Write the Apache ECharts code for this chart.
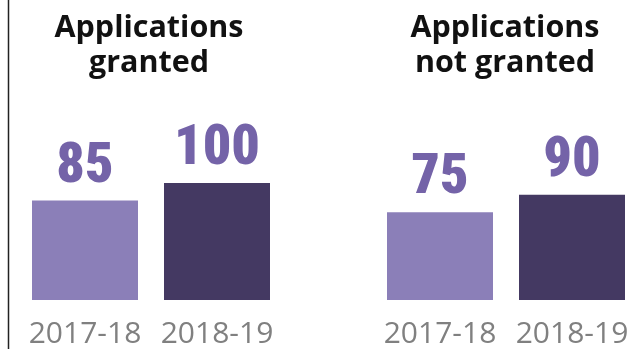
<!DOCTYPE html>
<html><head><meta charset="utf-8">
<script src="https://cdn.jsdelivr.net/npm/echarts@6/dist/echarts.min.js"></script>
<style>html,body{margin:0;padding:0;background:#fff}#c{width:641px;height:349px}</style>
</head><body><div id="c"></div>
<script>
const categories = ['2017-18', '2018-19'];
const grantedValues = [85, 100];
const notGrantedValues = [75, 90];
const panelTitles = ['Applications\ngranted', 'Applications\nnot granted'];
const barColors = ['#8B7FB8', '#443962'];

const chart = echarts.init(document.getElementById('c'), null, {renderer: 'canvas'});
const labelFont = '"Liberation Sans Narrow", "Roboto Condensed", "DejaVu Sans Condensed", "Liberation Sans", sans-serif';
function mkData(vals){ return vals.map((v,i)=>({value:v, itemStyle:{color:barColors[i]}})); }
function xAx(idx){ return {type:'category', gridIndex:idx, data:categories, axisLine:{show:false}, axisTick:{show:false},
  axisLabel:{interval:0, color:'#808080', fontSize:30, fontFamily:'"Open Sans", sans-serif', margin:19}}; }
function yAx(idx){ return {type:'value', gridIndex:idx, min:0, max:100, show:false}; }
function ser(idx, vals){ return {type:'bar', xAxisIndex:idx, yAxisIndex:idx, data:mkData(vals), barWidth:106,
  label:{show:true, position:'top', distance:5, color:'#7463A8', fontSize:56, fontWeight:900, fontFamily:labelFont}}; }

chart.setOption({
  animation:false,
  grid:[{left:19, width:264, top:183, bottom:45}, {left:374, width:264, top:183, bottom:45}],
  xAxis:[xAx(0), xAx(1)],
  yAxis:[yAx(0), yAx(1)],
  series:[ser(0, grantedValues), ser(1, notGrantedValues)],
  graphic:[
    {type:'line', shape:{x1:8.5, y1:0, x2:8.5, y2:349}, style:{stroke:'#222', lineWidth:1.5}},
    {type:'text', x:149, y:11, style:{text:panelTitles[0], textAlign:'center', fill:'#111', font:'bold 30.5px "Open Sans", sans-serif', lineHeight:35}},
    {type:'text', x:505, y:11, style:{text:panelTitles[1], textAlign:'center', fill:'#111', font:'bold 30.5px "Open Sans", sans-serif', lineHeight:35}}
  ]
});
</script></body></html>
